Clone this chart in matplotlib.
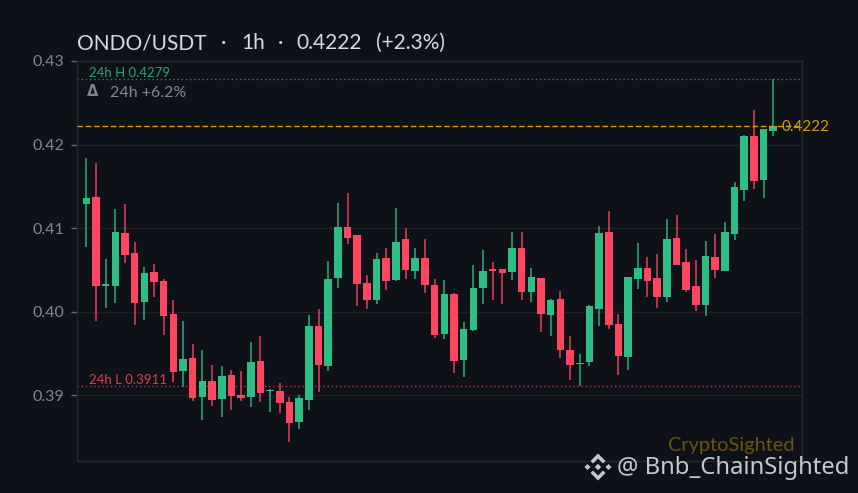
import matplotlib
matplotlib.use('Agg')
import matplotlib.pyplot as plt
from matplotlib.patches import Polygon

# candles
highs = [.41833, .41773, .40626, .41223, .41283, .40829, .40534, .40566, .40386, .40135, .39884, .39610,
         .39538, .39359, .39347, .39303, .39287, .39637, .39709, .39072, .39143, .38980, .38996, .39956,
         .40028, .40608, .41300, .41420, .40916, .40436, .40700, .40760, .41244, .40996, .40760, .40868,
         .40388, .40376, .40220, .39872, .40560, .40740, .40592, .40508, .40956, .40956, .40520, .40400,
         .40147, .40247, .39709, .39494, .40080, .41024, .41203, .39972, .40410, .40821, .40653, .40689,
         .41108, .41155, .40749, .40618, .40845, .40928, .41068, .41550, .42112, .42410, .42191, .42789]
lows = [.40777, .39892, .40048, .40104, .40586, .39833, .39904, .40179, .39713, .39151, .39092, .38924,
        .38697, .38865, .38733, .38817, .38924, .38853, .38912, .38793, .38781, .38434, .38590, .38825,
        .39040, .39288, .40276, .40804, .40072, .40036, .40092, .40252, .40360, .40384, .40384, .40216,
        .39688, .39676, .39268, .39220, .39768, .40096, .40132, .40096, .40372, .40132, .40120, .39760,
        .39709, .39438, .39183, .39104, .39343, .39829, .39793, .39235, .39303, .40271, .40175, .40044,
        .40116, .40554, .40235, .40008, .39948, .40402, .40490, .40857, .41323, .41466, .41359, .42100]
opens = [.41283, .41367, .40311, .40311, .40936, .40697, .40120, .40470, .40363, .39968, .39283, .39442,
         .38972, .39167, .38948, .39239, .39000, .38972, .39406, .39044, .39048, .38916, .38673, .38936,
         .39828, .39352, .40396, .41012, .40916, .40340, .40132, .40640, .40372, .40868, .40480, .40640,
         .40316, .39736, .40208, .39424, .39784, .40276, .40508, .40508, .40468, .40760, .40228, .40400,
         .39960, .40147, .39542, .39367, .39390, .40036, .40948, .39849, .39450, .40390, .40518, .40398,
         .40175, .40876, .40590, .40303, .40084, .40649, .40490, .40932, .41458, .42100, .41578, .42163]
closes = [.41355, .40311, .40331, .40948, .40681, .40108, .40458, .40359, .39952, .39271, .39430, .38960,
          .39167, .38936, .39227, .38984, .38960, .39394, .39020, .39064, .38900, .38661, .38964, .39825,
          .39364, .40388, .41012, .40876, .40324, .40132, .40628, .40360, .40832, .40492, .40640, .40312,
          .39724, .40208, .39412, .39788, .40280, .40484, .40480, .40456, .40760, .40228, .40412, .39976,
          .40139, .39534, .39355, .39387, .40064, .40940, .39833, .39462, .40410, .40518, .40371, .40179,
          .40865, .40562, .40263, .40084, .40661, .40502, .40948, .41486, .42100, .41566, .42191, .42227]

y_ticks = [0.39, 0.40, 0.41, 0.42, 0.43]
high_24h = 0.4279
low_24h = 0.3911
last_price = 0.4222
title_parts = ['ONDO/USDT', '\u00b7', '1h', '\u00b7', '0.4222', '(+2.3%)']
title_x = [77, 221, 241, 278, 296, 376]

BG = '#0e1117'
GREEN = '#2ebd85'
RED = '#ff4560'
GOLD = '#d29d0e'
GRID = '#1e2127'
GREY = '#85898f'
LOGO = '#c4c7cc'

plt.rcParams['font.family'] = ['Lato', 'DejaVu Sans']


def fx(px):
    return px / 858


def fy(px):
    return 1 - px / 493


fig = plt.figure(figsize=(8.58, 4.93), dpi=100, facecolor=BG)
ax = fig.add_axes([fx(77), fy(461), 725 / 858, 400 / 493], facecolor=BG)
ax.set_xlim(-0.96, 73.97)
ax.set_ylim(0.3821, 0.43)

ax.set_yticks(y_ticks)
ax.set_yticklabels(['%.2f' % t for t in y_ticks], fontsize=11.5, color=GREY)
ax.set_xticks([])
ax.tick_params(axis='y', length=4, width=1, color='#6a6d72', pad=5)
ax.grid(axis='y', color=GRID, linewidth=1)
ax.set_axisbelow(True)
for s in ax.spines.values():
    s.set_color('#24272d')
    s.set_linewidth(1)

# 24h levels and last price
ax.axhline(high_24h, color=GREEN, linewidth=1, linestyle=(0, (1, 2)), alpha=0.7, zorder=1.5)
ax.axhline(low_24h, color=RED, linewidth=1, linestyle=(0, (1, 2)), alpha=0.7, zorder=1.5)
ax.axhline(last_price, color=GOLD, linewidth=1, linestyle=(0, (4, 2)), zorder=3)

for i in range(len(opens)):
    up = closes[i] >= opens[i]
    col = GREEN if up else RED
    ax.vlines(i, lows[i], highs[i], color=col, linewidth=1.1, alpha=0.9, zorder=2)
    bottom = min(opens[i], closes[i])
    height = abs(closes[i] - opens[i])
    ax.bar(i, height, bottom=bottom, width=0.78, color=col, linewidth=0, zorder=2.5)

fig.text(fx(89), fy(73), '24h H %.4f' % high_24h, color=GREEN, fontsize=9.5, va='center', alpha=0.85)
fig.text(fx(89), fy(380), '24h L %.4f' % low_24h, color=RED, fontsize=9.5, va='center', alpha=0.85)
fig.text(fx(781), fy(127), '%.4f' % last_price, color=GOLD, fontsize=11, va='center')

fig.text(fx(87), fy(91), '\u0394', color='#7f838a', fontsize=10.5, va='center',
         family=['DejaVu Sans'], weight='bold')
fig.text(fx(110), fy(93), '24h +6.2%', color=GREY, fontsize=11.5, va='center')
for part, x in zip(title_parts, title_x):
    fig.text(fx(x), fy(43), part, color='#d8dadd', fontsize=15, va='center')
fig.text(fx(795), fy(445), 'CryptoSighted', color='#6b5210', fontsize=14.4, va='center', ha='right')
fig.text(fx(849), fy(468), '@ Bnb_ChainSighted', color=LOGO, fontsize=17.2, va='center',
         ha='right', family=['Noto Sans'])

# small binance style logo
cx, cy = 598.0, 467.0
logo = [[(0, -13.5), (7.5, -6), (5, -3.5), (0, -8.5), (-5, -3.5), (-7.5, -6)],
        [(0, 13.5), (7.5, 6), (5, 3.5), (0, 8.5), (-5, 3.5), (-7.5, 6)],
        [(-13.5, 0), (-10.5, -3), (-7.5, 0), (-10.5, 3)],
        [(13.5, 0), (10.5, -3), (7.5, 0), (10.5, 3)],
        [(0, -3.2), (3.2, 0), (0, 3.2), (-3.2, 0)]]
for pts in logo:
    xy = [(fx(cx + a), fy(cy + b)) for a, b in pts]
    fig.add_artist(Polygon(xy, closed=True, transform=fig.transFigure, facecolor=LOGO, edgecolor='none'))

fig.savefig('out.png', dpi=100, facecolor=BG)
